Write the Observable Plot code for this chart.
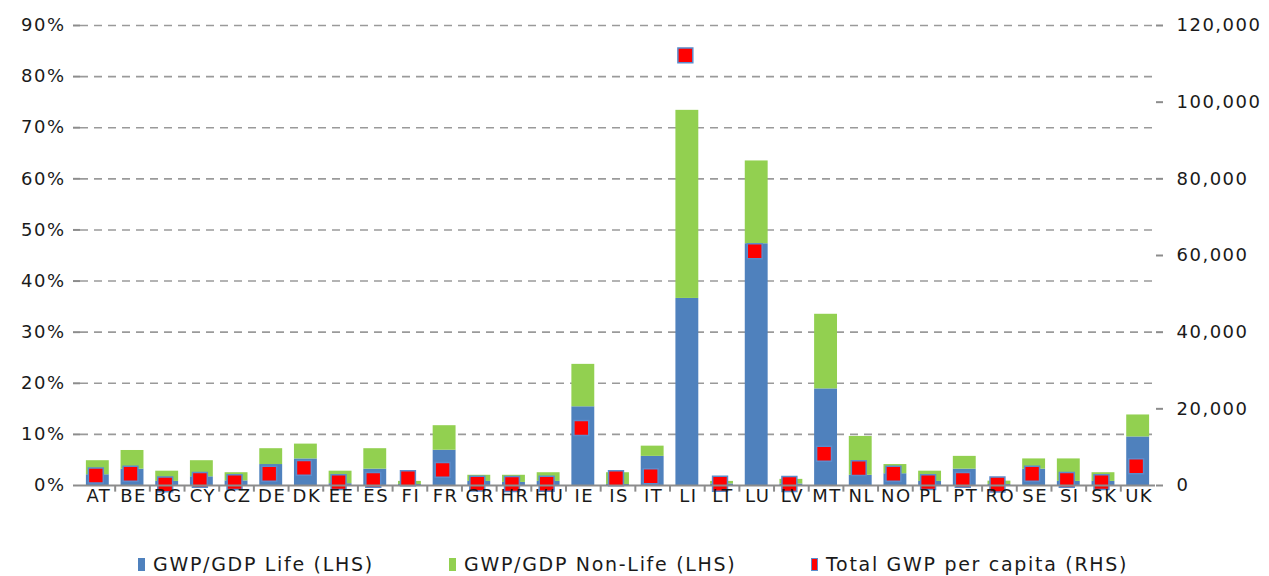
<!DOCTYPE html>
<html>
<head>
<meta charset="utf-8">
<script src="https://cdn.jsdelivr.net/npm/d3@7"></script>
<script src="https://cdn.jsdelivr.net/npm/@observablehq/plot@0.6"></script>
<style>
  html, body { margin: 0; padding: 0; background: #fff; }
  #wrap { width: 1269px; height: 576px; position: relative; font-family: "DejaVu Sans", Verdana, sans-serif; color: #1a1a1a; }
  #chart svg text { letter-spacing: 1.5px; }
  #legend { position: absolute; left: 0; top: 515px; width: 1269px; height: 61px; }
  .item { position: absolute; top: 38px; display: flex; align-items: center; font-size: 19px; letter-spacing: 1.7px; white-space: nowrap; }
  .sw { display: inline-block; width: 7px; height: 13px; margin-right: 8px; }
</style>
</head>
<body>
<div id="wrap">
  <div id="chart"></div>
  <div id="legend"></div>
</div>
<script>
const countries = ["AT","BE","BG","CY","CZ","DE","DK","EE","ES","FI","FR","GR","HR","HU","IE","IS","IT","LI","LT","LU","LV","MT","NL","NO","PL","PT","RO","SE","SI","SK","UK"];
// GWP/GDP Life (% of GDP)
const life    = [2.1, 3.2, 0.8, 1.7, 0.9, 4.1, 5.2, 0.35, 3.2, 0.2, 6.9, 0.8, 0.6, 0.8, 15.4, 0.2, 5.7, 36.6, 0.3, 47.3, 0.3, 18.9, 2.0, 2.3, 0.8, 3.2, 0.2, 3.2, 0.8, 0.8, 9.5];
// GWP/GDP Non-Life (% of GDP)
const nonLife = [2.75, 3.65, 2.0, 3.15, 1.6, 3.1, 2.9, 2.45, 4.0, 0.6, 4.8, 1.2, 1.4, 1.7, 8.3, 2.3, 2.0, 36.8, 0.5, 16.2, 0.9, 14.6, 7.6, 1.8, 2.0, 2.5, 0.65, 2.0, 4.4, 1.7, 4.3];
// Total GWP per capita (EUR, right-hand scale)
const perCapita = [2600, 3050, 300, 1480, 870, 3050, 4600, 870, 1480, 1900, 4090, 500, 400, 450, 15000, 1900, 2430, 112200, 450, 61100, 400, 8270, 4520, 3050, 870, 1480, 250, 3050, 1480, 870, 5040];

const seriesNames = ["GWP/GDP Life (LHS)", "GWP/GDP Non-Life (LHS)", "Total GWP per capita (RHS)"];
const seriesColors = ["#4F81BD", "#92D050", "#FF0000"];

const leftMax = 0.9;       // 90%
const rightMax = 120000;   // 120,000
const toLeft = v => v / rightMax * leftMax;

const barData = [];
countries.forEach((c, i) => {
  barData.push({country: c, series: seriesNames[0], value: life[i] / 100});
  barData.push({country: c, series: seriesNames[1], value: nonLife[i] / 100});
});
const dotData = countries.map((c, i) => ({country: c, value: perCapita[i]}));

const W = 1269, H = 515, mL = 80, mR = 114, mT = 25, mB = 30;
const innerW = W - mL - mR;
const step = innerW / countries.length;
const axisColor = "#8c8c8c";

const chart = Plot.plot({
  width: W, height: H,
  marginLeft: mL, marginRight: mR, marginTop: mT, marginBottom: mB,
  style: {fontFamily: "DejaVu Sans, Verdana, sans-serif", fontSize: "18px", color: "#1a1a1a", background: "#fff"},
  x: {type: "band", domain: countries, paddingInner: 0.34, paddingOuter: 0.17, round: false, label: null},
  y: {domain: [0, leftMax], label: null},
  color: {domain: seriesNames.slice(0, 2), range: seriesColors.slice(0, 2)},
  marks: [
    Plot.ruleY(d3.range(0.1, leftMax + 1e-9, 0.1), {stroke: "#9a9a9a", strokeWidth: 1.6, strokeDasharray: "8,6"}),
    Plot.barY(barData, {x: "country", y: "value", fill: "series", order: seriesNames.slice(0, 2), inset: 0}),
    Plot.dot(dotData, {x: "country", y: d => toLeft(d.value), symbol: "square", r: 8.4, fill: seriesColors[2], stroke: "#5b8ccc", strokeWidth: 1.5, dx: -2}),
    Plot.ruleY([0], {stroke: axisColor, strokeWidth: 2}),
    Plot.ruleX(countries.slice(1), {x: d => d, dx: -step / 2, y1: 0, y2: -0.013, stroke: axisColor, strokeWidth: 2}),
    Plot.axisX({tickSize: 0, tickPadding: 4, fontSize: 18, fill: "#1a1a1a", dx: 1}),
    Plot.axisY({anchor: "left", ticks: d3.range(0, leftMax + 1e-9, 0.1), tickFormat: d => Math.round(d * 100) + "%", tickSize: 7, tickPadding: 8, stroke: axisColor, strokeWidth: 2, fontSize: 18, fill: "#1a1a1a", label: null}),
    Plot.axisY({anchor: "right", ticks: d3.range(0, leftMax + 1e-9, leftMax / 6), tickFormat: d => d3.format(",")(Math.round(d / leftMax * rightMax)), tickSize: 7, tickPadding: 14, stroke: axisColor, strokeWidth: 2, fontSize: 18, fill: "#1a1a1a", label: null}),
    Plot.ruleX([0], {dx: -innerW / 2, stroke: axisColor, strokeWidth: 2}),
    Plot.ruleX([0], {dx: innerW / 2, stroke: axisColor, strokeWidth: 2})
  ]
});
document.getElementById("chart").appendChild(chart);

// legend
const legend = document.getElementById("legend");
const lefts = [138, 449, 811];
seriesNames.forEach((name, i) => {
  const it = document.createElement("div");
  it.className = "item";
  it.style.left = lefts[i] + "px";
  const sw = document.createElement("span");
  sw.className = "sw";
  sw.style.background = seriesColors[i];
  if (i === 2) { sw.style.border = "1px solid #5b8ccc"; sw.style.width = "5px"; sw.style.height = "11px"; }
  const tx = document.createElement("span");
  tx.textContent = name;
  it.appendChild(sw); it.appendChild(tx);
  legend.appendChild(it);
});
</script>
</body>
</html>
